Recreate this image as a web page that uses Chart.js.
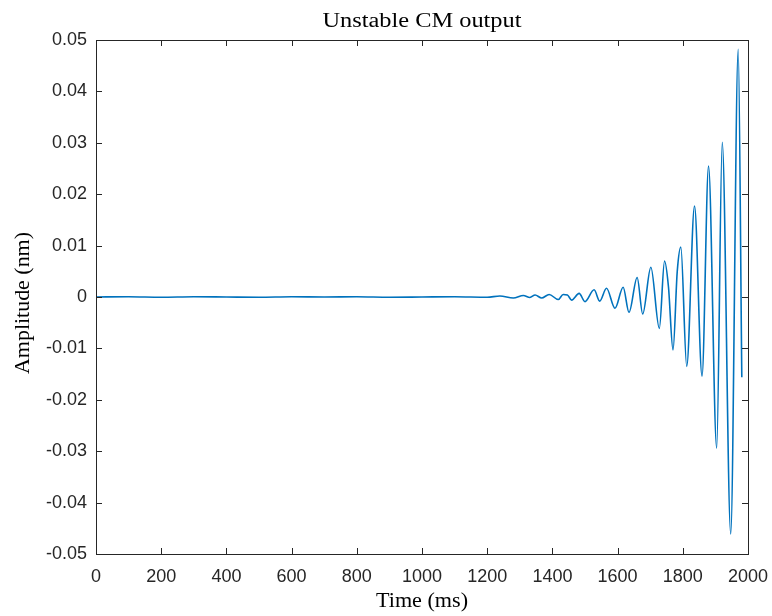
<!DOCTYPE html>
<html>
<head>
<meta charset="utf-8">
<script src="https://cdn.jsdelivr.net/npm/chart.js@4"></script>
<style>
  html, body { margin: 0; padding: 0; background: #fff; }
  #wrap { width: 772px; height: 616px; }
</style>
</head>
<body>
<div id="wrap"><canvas id="myChart" width="772" height="616"></canvas></div>
<script>
// values (time in ms, amplitude in nm)
const times = [0, 100, 200, 300, 400, 500, 600, 700, 800, 900, 1000, 1100, 1200,
    1239, 1280, 1311, 1331, 1347, 1367, 1390, 1418, 1433, 1446, 1459, 1482, 1500,
    1528, 1545, 1566, 1592, 1617, 1635, 1660, 1677, 1702, 1728, 1744, 1756, 1770,
    1783, 1794, 1812, 1836, 1859, 1879, 1904, 1921, 1947, 1970, 1981]
const amplitude = [0, 0.00005, -0.00005, 0.00005, 0, -0.00005, 0.00005, 0, 0.00005, -0.00005, 0, 0.00005, -0.00005,
    0.0002, -0.0002, 0.0003, -0.0001, 0.0004, -0.0002, 0.0005, -0.0005, 0.0005, 0.0004, -0.0006, 0.0007, -0.0009,
    0.0014, -0.0008, 0.0017, -0.0022, 0.0019, -0.0030, 0.0038, -0.0033, 0.0058, -0.0061, 0.0070, 0.0020, -0.0103,
    0.0050, 0.0097, -0.0135, 0.0177, -0.0154, 0.0255, -0.0294, 0.0301, -0.0461, 0.0482, -0.0156]
const xTicks = [0, 200, 400, 600, 800, 1000, 1200, 1400, 1600, 1800, 2000]
const yTicks = [0.05, 0.04, 0.03, 0.02, 0.01, 0, -0.01, -0.02, -0.03, -0.04, -0.05]

const axisColor = '#262626'
const serif = '"Liberation Serif", "DejaVu Serif", serif'
const sans = '"Liberation Sans", Arial, sans-serif'

// serif text squeezed/stretched to the width it has in the picture
function label(ctx, text, x, y, width) {
    ctx.save()
    ctx.translate(x, y)
    const w = ctx.measureText(text).width
    ctx.scale(width / w, 1)
    ctx.fillText(text, 0, 0)
    ctx.restore()
}

// box, inner ticks and texts like matlab
const boxPlugin = {
    id: 'box',
    afterDraw(chart) {
        const { ctx, chartArea: a, scales } = chart
        ctx.save()
        ctx.strokeStyle = axisColor
        ctx.lineWidth = 1
        ctx.beginPath()
        xTicks.forEach(v => {
            const x = Math.round(scales.x.getPixelForValue(v)) + 0.5
            ctx.moveTo(x, a.bottom); ctx.lineTo(x, a.bottom - 6)
            ctx.moveTo(x, a.top); ctx.lineTo(x, a.top + 6)
        })
        yTicks.forEach(v => {
            const y = Math.round(scales.y.getPixelForValue(v)) + 0.5
            ctx.moveTo(a.left, y); ctx.lineTo(a.left + 6, y)
            ctx.moveTo(a.right, y); ctx.lineTo(a.right - 6, y)
        })
        ctx.stroke()
        ctx.strokeRect(Math.round(a.left) + 0.5, Math.round(a.top) + 0.5,
            Math.round(a.right - a.left), Math.round(a.bottom - a.top))

        const cx = (a.left + a.right) / 2
        ctx.fillStyle = '#000'
        ctx.textAlign = 'center'
        ctx.textBaseline = 'alphabetic'
        ctx.font = '20px ' + serif
        label(ctx, 'Unstable CM output', cx, 27, 199)
        label(ctx, 'Time (ms)', cx, 607, 92)
        ctx.translate(29, 303)
        ctx.rotate(-Math.PI / 2)
        label(ctx, 'Amplitude (nm)', 0, 0, 142)
        ctx.restore()
    }
}

const ctx = document.getElementById('myChart').getContext('2d')
new Chart(ctx, {
    type: 'line',
    data: {
        datasets: [{
            data: times.map((t, i) => ({ x: t, y: amplitude[i] })),
            borderColor: '#0072BD',
            borderWidth: 1.6,
            pointRadius: 0,
            cubicInterpolationMode: 'monotone',
            fill: false
        }]
    },
    options: {
        responsive: false,
        animation: false,
        layout: { padding: { top: 40, right: 24, left: 0, bottom: 0 } },
        plugins: { legend: { display: false }, tooltip: { enabled: false } },
        scales: {
            x: {
                type: 'linear',
                min: 0, max: 2000,
                afterBuildTicks: s => { s.ticks = xTicks.map(v => ({ value: v })) },
                afterFit: s => { s.height = 62; s.paddingRight = 0; s.paddingLeft = 0 },
                grid: { display: false, drawTicks: false },
                border: { display: false },
                ticks: {
                    color: '#262626', padding: 12, maxRotation: 0,
                    font: { family: sans, size: 18 },
                    callback: v => String(v)
                }
            },
            y: {
                type: 'linear',
                min: -0.05, max: 0.05,
                afterBuildTicks: s => { s.ticks = yTicks.map(v => ({ value: v })) },
                afterFit: s => { s.width = 96; s.paddingTop = 0; s.paddingBottom = 0 },
                grid: { display: false, drawTicks: false },
                border: { display: false },
                ticks: {
                    color: '#262626', padding: 9,
                    font: { family: sans, size: 18 },
                    callback: v => {
                        const r = Math.round(v * 100) / 100
                        return r === 0 ? '0' : r.toFixed(2)
                    }
                }
            }
        }
    },
    plugins: [boxPlugin]
})
</script>
</body>
</html>
